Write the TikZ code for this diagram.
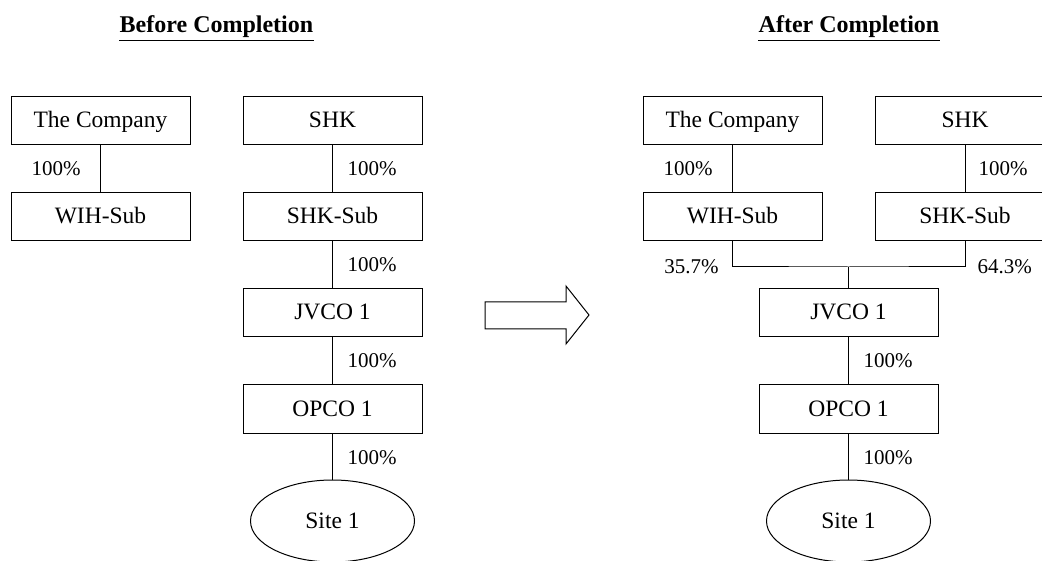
\documentclass[tikz,border=0pt]{standalone}
\usepackage{fontspec}
\setmainfont{Liberation Serif}
\usetikzlibrary{shapes.geometric}
\begin{document}
\begin{tikzpicture}[x=1pt,y=-1pt,
  line width=1pt,
  every node/.style={font=\fontsize{23.5}{28}\selectfont},
  entbox/.style={draw, rectangle, minimum width=179pt, minimum height=48pt, inner sep=0pt, text height=16pt, text depth=2pt},
  sitebox/.style={draw, ellipse, minimum width=164pt, minimum height=82pt, inner sep=0pt, text height=16pt, text depth=2pt},
  pctl/.style={anchor=base east, inner sep=0pt, font=\fontsize{21}{25}\selectfont},
  pctr/.style={anchor=base west, inner sep=0pt, font=\fontsize{21}{25}\selectfont},
  titlenode/.style={font=\fontsize{24}{28}\selectfont\bfseries, inner sep=0pt, anchor=base}
]
\useasboundingbox (0,0) rectangle (1042,561);

% titles
\node[titlenode] (t1) at (216.5,33) {Before Completion};
\draw ([yshift=-8pt]t1.base west) -- ([yshift=-8pt]t1.base east);
\node[titlenode] (t2) at (849,33) {After Completion};
\draw ([yshift=-8pt]t2.base west) -- ([yshift=-8pt]t2.base east);

% before
\node[entbox] (tc1) at (100.5,121) {The Company};
\node[entbox] (wih1) at (100.5,217) {WIH-Sub};
\node[entbox] (shk1) at (332.5,121) {SHK};
\node[entbox] (shks1) at (332.5,217) {SHK-Sub};
\node[entbox] (jv1) at (332.5,313) {JVCO 1};
\node[entbox] (op1) at (332.5,409) {OPCO 1};
\node[sitebox] (site1) at (332.5,521) {Site 1};

\draw (tc1) -- (wih1);
\draw (shk1) -- (shks1);
\draw (shks1) -- (jv1);
\draw (jv1) -- (op1);
\draw (op1) -- (site1);

\node[pctl] (p1) at (81,176) {100\%};
\node[pctr] (p2) at (347,176) {100\%};
\node[pctr] (p3) at (347,272) {100\%};
\node[pctr] (p4) at (347,368) {100\%};
\node[pctr] (p5) at (347,464) {100\%};

% arrow
\draw (485,302) -- (566,302) -- (566,286) -- (589,315) -- (566,344) -- (566,329) -- (485,329) -- cycle;

% after
\node[entbox] (tc2) at (732.5,121) {The Company};
\node[entbox] (wih2) at (732.5,217) {WIH-Sub};
\node[entbox, minimum width=180pt] (shk2) at (965,121) {SHK};
\node[entbox, minimum width=180pt] (shks2) at (965,217) {SHK-Sub};
\node[entbox] (jv2) at (848.5,313) {JVCO 1};
\node[entbox] (op2) at (848.5,409) {OPCO 1};
\node[sitebox] (site2) at (848.5,521) {Site 1};

\coordinate (jn) at (848.5,267);
\draw (tc2) -- (wih2);
\draw (shk2) -- (shks2);
\draw (wih2.south) |- (jn) -| (shks2.south);
\draw (jn) -- (jv2.north);
\draw (jv2) -- (op2);
\draw (op2) -- (site2);

\node[pctl] (q1) at (713,176) {100\%};
\node[pctr] (q2) at (978,176) {100\%};
\node[pctl] (q3) at (719,274) {35.7\%};
\node[pctr] (q4) at (977,274) {64.3\%};
\node[pctr] (q5) at (863,368) {100\%};
\node[pctr] (q6) at (863,464) {100\%};
\end{tikzpicture}
\end{document}
